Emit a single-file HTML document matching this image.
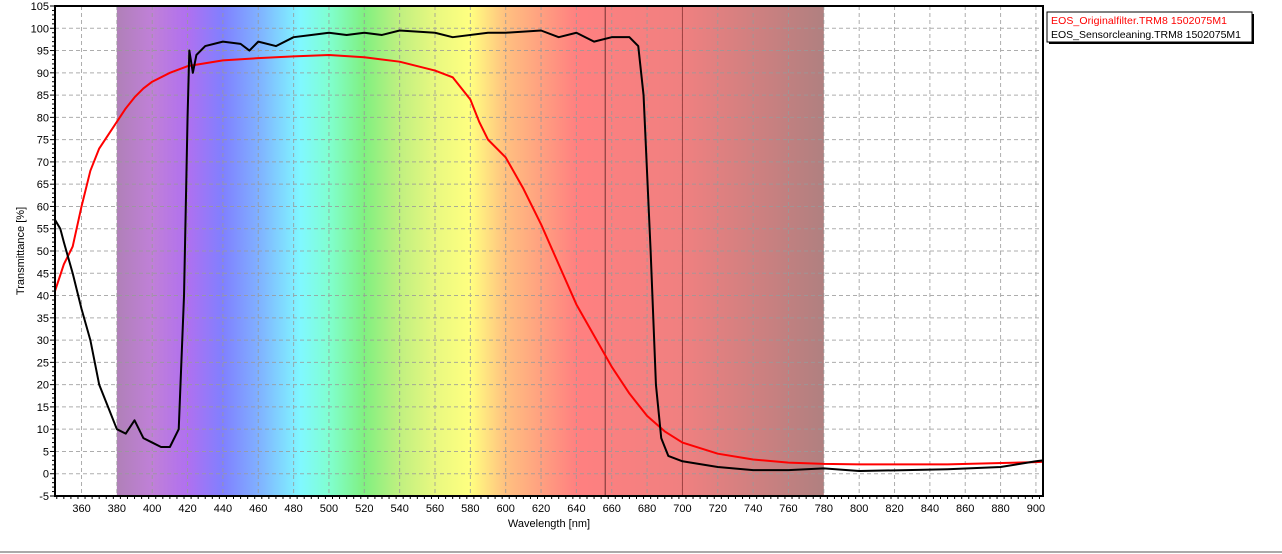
<!DOCTYPE html>
<html><head><meta charset="utf-8"><style>
body{margin:0;background:#fff;width:1282px;height:554px;overflow:hidden;font-family:"Liberation Sans",sans-serif}
</style></head><body>
<svg id="c" width="1282" height="554" style="position:absolute;left:0;top:0"></svg>
<script>
const redWl=[345,350,355,360,365,370,375,380,385,390,395,400,410,420,440,460,480,500,520,540,560,570,580,585,590,600,610,620,630,640,650,660,670,680,690,700,720,740,760,780,800,850,900,904];
const redT=[41,47,51,60,68,73,76,79,82,84.5,86.5,88,90,91.5,92.8,93.3,93.7,94,93.5,92.5,90.5,89,84,79,75,71,64,56,47,38,31,24,18,13,9.5,7,4.5,3.2,2.5,2.2,2.1,2.1,2.6,2.7];
const blkWl=[345,348,350,355,360,365,370,375,380,385,390,395,400,405,410,415,418,420,421,423,425,430,440,450,455,460,470,480,490,500,510,520,530,540,560,570,590,600,620,630,640,650,660,670,675,678,682,685,688,692,700,720,740,760,780,800,850,880,900,904];
const blkT=[57,55,52,45,37,30,20,15,10,9,12,8,7,6,6,10,40,80,95,90,94,96,97,96.5,95,97,96,98,98.5,99,98.5,99,98.5,99.5,99,98,99,99,99.5,98,99,97,98,98,96,85,50,20,8,4,2.8,1.5,0.8,0.8,1.2,0.6,1,1.5,2.8,3];
const xTicks=[360,380,400,420,440,460,480,500,520,540,560,580,600,620,640,660,680,700,720,740,760,780,800,820,840,860,880,900];
const yTicks=[-5,0,5,10,15,20,25,30,35,40,45,50,55,60,65,70,75,80,85,90,95,100,105];
const L=55,R=1043,T=6,B=496,x0=345,x1=904,yMin=-5,yMax=105;
const X=v=>L+(v-x0)/(x1-x0)*(R-L), Y=v=>B-(v-yMin)/(yMax-yMin)*(B-T);
const svg=document.getElementById('c');const NS='http://www.w3.org/2000/svg';
function mk(t,a,p){const e=document.createElementNS(NS,t);for(const k in a)e.setAttribute(k,a[k]);(p||svg).appendChild(e);return e;}
const defs=mk('defs',{});const g=mk('linearGradient',{id:'sp',x1:'0',x2:'1',y1:'0',y2:'0'},defs);
const stops=[[0,'#b080b8'],[0.05,'#c080d8'],[0.1,'#b070f0'],[0.15,'#8080ff'],[0.2,'#80b0ff'],[0.26,'#80f8ff'],[0.3,'#80ffd0'],[0.35,'#80f080'],[0.4,'#c0f080'],[0.45,'#e8f880'],[0.5,'#ffff80'],[0.55,'#ffc080'],[0.6,'#ffa080'],[0.65,'#ff8080'],[0.8,'#f08080'],[0.9,'#d08080'],[1,'#b08080']];
stops.forEach(s=>mk('stop',{offset:s[0],'stop-color':s[1]},g));
const bg=mk('rect',{x:X(380),y:T,width:X(780)-X(380),height:B-T,fill:'url(#sp)'});

const grid=mk('g',{stroke:'#999','stroke-dasharray':'4,3','stroke-width':1,opacity:0.8});

xTicks.forEach(v=>mk('line',{x1:X(v),x2:X(v),y1:T,y2:B},grid));
yTicks.forEach(v=>mk('line',{x1:L,x2:R,y1:Y(v),y2:Y(v)},grid));
mk('line',{x1:X(656.3),x2:X(656.3),y1:T,y2:B,stroke:'#703030','stroke-width':1});
mk('line',{x1:X(700),x2:X(700),y1:T,y2:B,stroke:'#a04040','stroke-width':1});
function line(wl,t,col,w,name){const p=mk('polyline',{points:wl.map((v,i)=>X(v)+','+Y(t[i])).join(' '),fill:'none',stroke:col,'stroke-width':w,'stroke-linejoin':'round'});}
line(redWl,redT,'#ff0000',2,'series-originalfilter');
line(blkWl,blkT,'#000',2,'series-sensorcleaning');
const fr=mk('rect',{x:L,y:T,width:R-L,height:B-T,fill:'none',stroke:'#000','stroke-width':2});

const ax=mk('g',{'font-size':11,fill:'#000'});

for(let v=346;v<=904;v+=4){mk('line',{x1:X(v),x2:X(v),y1:B,y2:B+(v%20==0?5:3),stroke:'#000'},ax);}
xTicks.forEach(v=>{const t=mk('text',{x:X(v),y:B+16,'text-anchor':'middle'},ax);t.textContent=v;});
for(let v=-5;v<=105;v++){mk('line',{x1:L-(v%5==0?5:3),x2:L,y1:Y(v),y2:Y(v),stroke:'#000'},ax);}
yTicks.forEach(v=>{const t=mk('text',{x:L-6,y:Y(v)+4,'text-anchor':'end'},ax);t.textContent=v;});
const xt=mk('text',{x:549,y:527,'text-anchor':'middle','font-size':11});xt.textContent='Wavelength [nm]';

const yt=mk('text',{x:24,y:251,'text-anchor':'middle','font-size':11,transform:'rotate(-90 24 251)'});yt.textContent='Transmittance [%]';

mk('line',{x1:0,x2:1282,y1:552,y2:552,stroke:'#aaa','stroke-width':2});
const lg=mk('g',{});
mk('rect',{x:1049,y:14,width:205,height:30,fill:'#000'},lg);
mk('rect',{x:1047,y:12,width:205,height:30,fill:'#fff',stroke:'#000'},lg);
const l1=mk('text',{x:1051,y:24,'font-size':10.5,fill:'#ff0000',textLength:176},lg);l1.textContent='EOS_Originalfilter.TRM8 1502075M1';

const l2=mk('text',{x:1051,y:38,'font-size':10.5,fill:'#000',textLength:190},lg);l2.textContent='EOS_Sensorcleaning.TRM8 1502075M1';

</script>
</body></html>
